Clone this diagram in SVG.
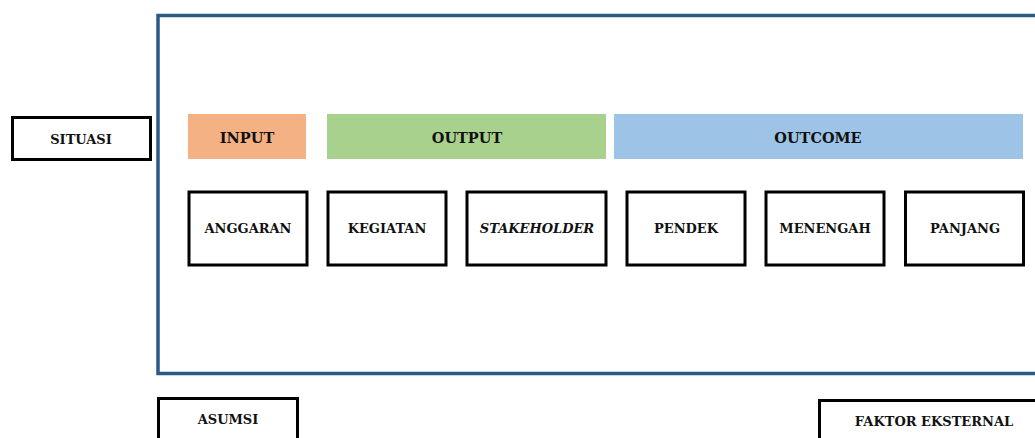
<svg xmlns="http://www.w3.org/2000/svg" width="1035" height="438" viewBox="0 0 1035 438">
  <style>
    .box { fill: #ffffff; stroke: #000000; stroke-width: 3; }
    .frame { fill: none; stroke: #2b5a86; stroke-width: 3.5; }
    .lbl { font-family: "DejaVu Serif", "Liberation Serif", serif; font-weight: bold; font-size: 13px; fill: #111111; text-anchor: middle; dominant-baseline: central; }
    .hdr { font-size: 14.5px; }
    .it { font-style: italic; }
  </style>
  <rect width="1035" height="438" fill="#ffffff"/>

  <!-- program frame -->
  <g id="frame">
    <rect class="frame" x="158" y="15.5" width="900" height="358"/>
  </g>

  <g id="situasi">
    <rect class="box" x="12.5" y="117.5" width="138" height="42"/>
    <text class="lbl" x="81" y="139">SITUASI</text>
  </g>

  <!-- stage headers -->
  <g id="input">
    <rect x="188" y="114" width="118" height="45" fill="#f4b183"/>
    <text class="lbl hdr" x="247" y="137">INPUT</text>
  </g>
  <g id="output">
    <rect x="327" y="114" width="279" height="45" fill="#a9d18e"/>
    <text class="lbl hdr" x="467" y="137">OUTPUT</text>
  </g>
  <g id="outcome">
    <rect x="614" y="114" width="409" height="45" fill="#9dc3e6"/>
    <text class="lbl hdr" x="818" y="137">OUTCOME</text>
  </g>

  <!-- stage items -->
  <g id="anggaran">
    <rect class="box" x="189" y="192" width="118" height="73"/>
    <text class="lbl" x="248" y="228">ANGGARAN</text>
  </g>
  <g id="kegiatan">
    <rect class="box" x="328" y="192" width="118" height="73"/>
    <text class="lbl" x="387" y="228">KEGIATAN</text>
  </g>
  <g id="stakeholder">
    <rect class="box" x="467" y="192" width="139" height="73"/>
    <text class="lbl it" x="537" y="228">STAKEHOLDER</text>
  </g>
  <g id="pendek">
    <rect class="box" x="627" y="192" width="118" height="73"/>
    <text class="lbl" x="686" y="228">PENDEK</text>
  </g>
  <g id="menengah">
    <rect class="box" x="766" y="192" width="118" height="73"/>
    <text class="lbl" x="825" y="228">MENENGAH</text>
  </g>
  <g id="panjang">
    <rect class="box" x="905.5" y="192" width="118" height="73"/>
    <text class="lbl" x="965" y="228">PANJANG</text>
  </g>

  <g id="asumsi">
    <rect class="box" x="158.5" y="398.5" width="139" height="60"/>
    <text class="lbl" x="228" y="419">ASUMSI</text>
  </g>
  <g id="faktor-eksternal">
    <rect class="box" x="819.5" y="400.5" width="240" height="60"/>
    <text class="lbl" x="934" y="421">FAKTOR EKSTERNAL</text>
  </g>

  <g id="connectors"></g>
</svg>
